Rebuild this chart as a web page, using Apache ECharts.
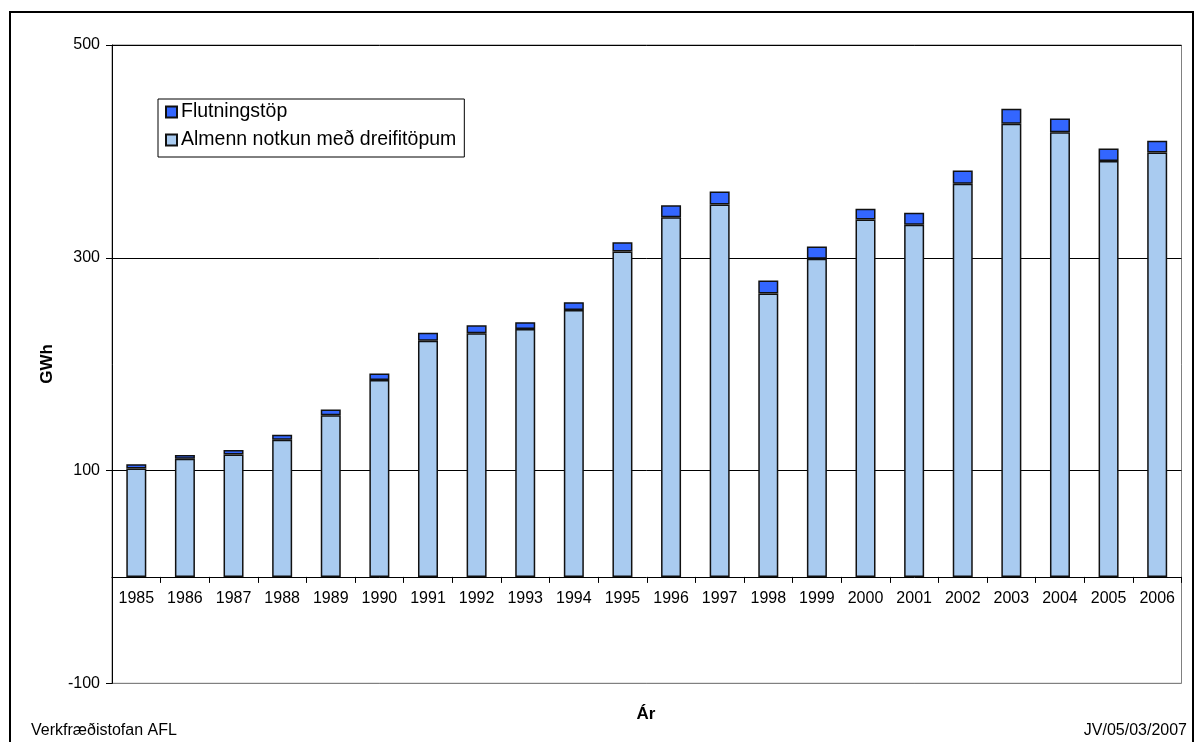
<!DOCTYPE html>
<html>
<head>
<meta charset="utf-8">
<script src="https://cdn.jsdelivr.net/npm/echarts@6/dist/echarts.min.js"></script>
<style>
  html, body { margin: 0; padding: 0; background: #fff; }
  #chart { width: 1204px; height: 742px; }
</style>
</head>
<body>
<div id="chart"></div>
<script>
// ---- Data ----
const years = ['1985','1986','1987','1988','1989','1990','1991','1992','1993','1994','1995',
               '1996','1997','1998','1999','2000','2001','2002','2003','2004','2005','2006'];
const almennNotkun = [102, 111, 115, 129, 152, 185, 222, 229, 233, 251, 306,
                      338, 350, 266.5, 299, 336, 331, 369.5, 426, 418, 391, 399];
const flutningstop = [4, 3.5, 4.4, 4.7, 5.4, 6.3, 7.6, 7.5, 6.5, 7.3, 8.5,
                      11.3, 12.3, 12.2, 11.6, 10.1, 11.3, 12.5, 14.1, 12.9, 11.8, 11];
const yTicks = { min: -100, max: 500, interval: 200 };
const seriesNames = ['Flutningstöp', 'Almenn notkun með dreifitöpum'];

const FONT = '"Liberation Sans", Arial, Helvetica, sans-serif';

const gridTop = 45, gridHeight = 638.3;
// pixel distance from grid bottom (-100) up to zero line
const zeroOffset = gridHeight * (0 - yTicks.min) / (yTicks.max - yTicks.min);

const chart = echarts.init(document.getElementById('chart'), null, { renderer: 'canvas' });

chart.setOption({
  animation: false,
  backgroundColor: '#fff',
  grid: {
    left: 112, right: 22.5, top: gridTop, height: gridHeight,
    show: true, borderColor: '#808080', borderWidth: 1, backgroundColor: 'transparent'
  },
  legend: {
    left: 158, top: 99,
    orient: 'vertical',
    data: seriesNames,
    icon: 'rect',
    itemWidth: 11, itemHeight: 11,
    itemGap: 8,
    padding: [3, 8, 7, 7],
    borderColor: '#000', borderWidth: 1,
    backgroundColor: '#fff',
    textStyle: { fontFamily: FONT, fontSize: 19.5, color: '#000', lineHeight: 20, padding: [0, 0, 0, -1] }
  },
  xAxis: {
    type: 'category',
    data: years,
    position: 'bottom',
    offset: -zeroOffset,
    axisLine: { onZero: false, lineStyle: { color: '#000', width: 1 } },
    axisTick: { show: true, length: 6, lineStyle: { color: '#000' } },
    axisLabel: { fontFamily: FONT, fontSize: 16, color: '#000', margin: 14 },
    splitLine: { show: false }
  },
  yAxis: {
    type: 'value',
    min: yTicks.min, max: yTicks.max, interval: yTicks.interval,
    axisLine: { show: true, lineStyle: { color: '#000', width: 1 } },
    axisTick: { show: true, length: 6, lineStyle: { color: '#000' } },
    axisLabel: { fontFamily: FONT, fontSize: 16, color: '#000', margin: 12 },
    splitLine: { show: true, lineStyle: { color: ['#808080', '#000', '#000', '#000'], width: 1 } }
  },
  series: [
    {
      name: seriesNames[1],
      type: 'bar',
      stack: 'total',
      data: almennNotkun,
      barWidth: 20,
      itemStyle: { color: '#A9CBF0', borderColor: '#111', borderWidth: 1.5 }
    },
    {
      name: seriesNames[0],
      type: 'bar',
      stack: 'total',
      data: flutningstop,
      barWidth: 20,
      itemStyle: { color: '#3366FF', borderColor: '#111', borderWidth: 1.5 }
    }
  ],
  graphic: [
    {
      type: 'rect', silent: true, z: 100,
      shape: { x: 10, y: 12, width: 1183, height: 800 },
      style: { fill: 'none', stroke: '#000', lineWidth: 2 }
    },
    {
      type: 'text', z: 100,
      x: 47, y: 364, rotation: Math.PI / 2,
      style: { text: 'GWh', x: 0, y: 0, align: 'center', verticalAlign: 'middle',
               font: 'bold 17px ' + FONT, fill: '#000' }
    },
    {
      type: 'text', z: 100,
      style: { text: 'Ár', x: 646, y: 714, align: 'center', verticalAlign: 'middle',
               font: 'bold 17px ' + FONT, fill: '#000' }
    },
    {
      type: 'text', z: 100,
      style: { text: 'Verkfræðistofan AFL', x: 31, y: 731, align: 'left', verticalAlign: 'middle',
               font: '16px ' + FONT, fill: '#000' }
    },
    {
      type: 'text', z: 100,
      style: { text: 'JV/05/03/2007', x: 1187, y: 731, align: 'right', verticalAlign: 'middle',
               font: '16px ' + FONT, fill: '#000' }
    }
  ]
});
</script>
</body>
</html>
